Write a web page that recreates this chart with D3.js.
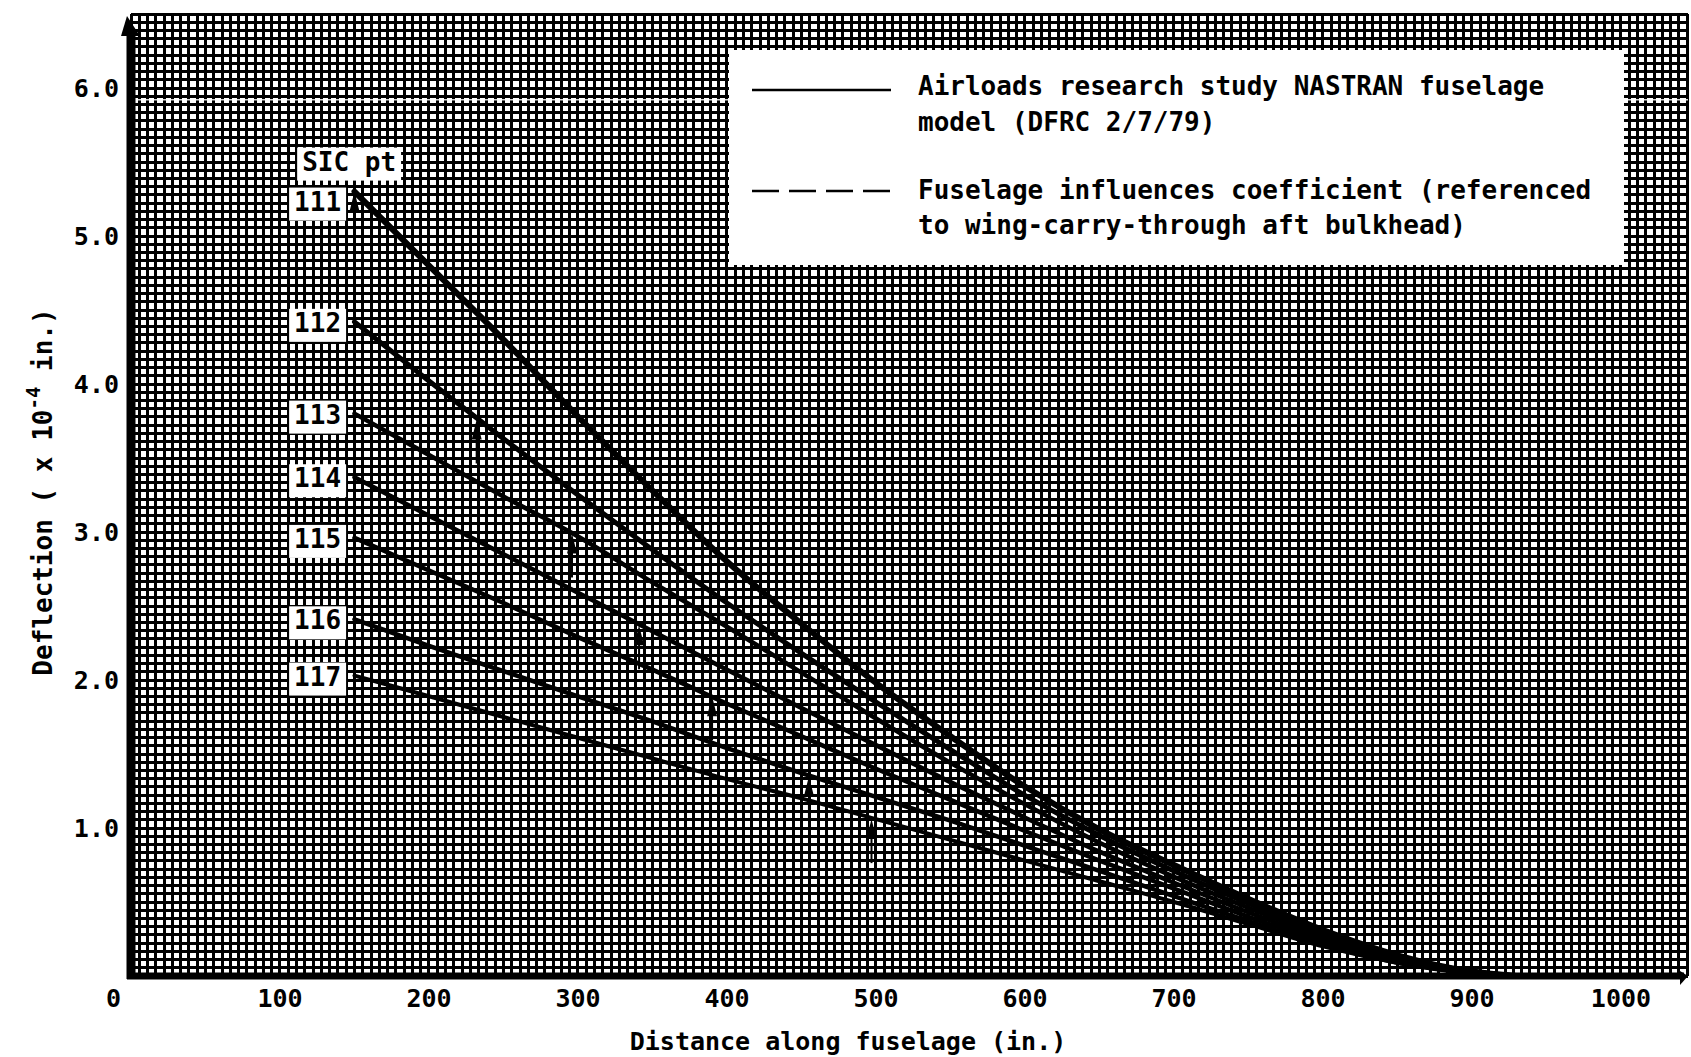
<!DOCTYPE html>
<html>
<head>
<meta charset="utf-8">
<script src="https://cdn.jsdelivr.net/npm/d3@7"></script>
<style>
  html, body { margin: 0; padding: 0; background: #fff; }
  svg { display: block; }
  text { font-family: "DejaVu Sans Mono", "Liberation Mono", monospace; font-weight: bold; fill: #000; }
</style>
</head>
<body>
<svg id="chart" width="1691" height="1057"></svg>
<script>
// ---- data -------------------------------------------------------------
const xTicks = [0, 100, 200, 300, 400, 500, 600, 700, 800, 900, 1000];
const yTicks = [1.0, 2.0, 3.0, 4.0, 5.0, 6.0];

const sicPoints = ["111", "112", "113", "114", "115", "116", "117"];

// distance along fuselage (in.) at which each deflection curve is read
const distance = [150, 200, 250, 300, 350, 400, 450, 500, 550, 600, 650, 700, 750, 800, 850, 900, 930];

// deflection (x 10^-4 in.) for each SIC point
const defl111 = [5.30, 4.80, 4.30, 3.78, 3.28, 2.80, 2.38, 1.98, 1.62, 1.28, 0.99, 0.75, 0.52, 0.31, 0.14, 0.03, 0.0];
const defl112 = [4.42, 4.02, 3.63, 3.25, 2.88, 2.52, 2.18, 1.85, 1.53, 1.22, 0.95, 0.71, 0.49, 0.29, 0.13, 0.03, 0.0];
const defl113 = [3.80, 3.52, 3.24, 2.97, 2.66, 2.36, 2.05, 1.74, 1.44, 1.16, 0.90, 0.67, 0.46, 0.27, 0.12, 0.03, 0.0];
const defl114 = [3.37, 3.11, 2.85, 2.59, 2.33, 2.07, 1.81, 1.56, 1.31, 1.07, 0.84, 0.63, 0.43, 0.25, 0.11, 0.02, 0.0];
const defl115 = [2.96, 2.74, 2.52, 2.29, 2.07, 1.84, 1.62, 1.40, 1.19, 0.98, 0.78, 0.59, 0.40, 0.23, 0.10, 0.02, 0.0];
const defl116 = [2.41, 2.23, 2.06, 1.89, 1.72, 1.54, 1.37, 1.21, 1.05, 0.88, 0.71, 0.54, 0.37, 0.21, 0.09, 0.02, 0.0];
const defl117 = [2.03, 1.89, 1.75, 1.61, 1.47, 1.33, 1.20, 1.06, 0.92, 0.78, 0.64, 0.50, 0.35, 0.20, 0.09, 0.02, 0.0];

// station of each SIC point and the deflection there (arrow markers)
const sicStation = [150, 232, 296, 341, 390, 455, 497];
const sicDeflection = [5.30, 3.76, 2.99, 2.37, 1.89, 1.35, 1.06];

const legendSolid = ["Airloads research study NASTRAN fuselage", "model (DFRC 2/7/79)"];
const legendDashed = ["Fuselage influences coefficient (referenced", "to wing-carry-through aft bulkhead)"];

// ---- scales -----------------------------------------------------------
const x = d3.scaleLinear().domain([0, 1045]).range([131, 1688]);
const y = d3.scaleLinear().domain([0, 6.5]).range([976, 14]);

const svg = d3.select("#chart");

// ---- graph paper ------------------------------------------------------
const squaresPerUnit = 18;
const gridX = d3.range(0, 1045 + 1e-6, 100 / squaresPerUnit);
const gridY = d3.range(0, 6.5 + 1e-6, 1 / squaresPerUnit);

const paper = svg.append("g").attr("shape-rendering", "crispEdges");
paper.append("rect")
  .attr("x", x(0)).attr("y", y(6.5))
  .attr("width", x(1045) - x(0)).attr("height", y(0) - y(6.5))
  .attr("fill", "#fff");
paper.selectAll("line.gv").data(gridX).join("line")
  .attr("class", "gv")
  .attr("x1", d => x(d)).attr("x2", d => x(d))
  .attr("y1", y(6.5)).attr("y2", y(0))
  .attr("stroke", "#000").attr("stroke-width", 3);
paper.selectAll("line.gh").data(gridY).join("line")
  .attr("class", "gh")
  .attr("x1", x(0)).attr("x2", x(1045))
  .attr("y1", d => y(d)).attr("y2", d => y(d))
  .attr("stroke", "#000").attr("stroke-width", 3);

// light crease running across the sheet near the top
svg.append("line")
  .attr("x1", x(0)).attr("x2", x(1045))
  .attr("y1", y(5.92)).attr("y2", y(5.92))
  .attr("stroke", "#fff").attr("stroke-width", 1.5).attr("opacity", 0.85);

// ---- legend -----------------------------------------------------------
const lg = svg.append("g");
lg.append("rect")
  .attr("x", 729).attr("y", 50).attr("width", 895).attr("height", 215)
  .attr("fill", "#fff");
lg.append("line")
  .attr("x1", 752).attr("x2", 891).attr("y1", 90).attr("y2", 90)
  .attr("stroke", "#000").attr("stroke-width", 2.5);
lg.append("line")
  .attr("x1", 752).attr("x2", 891).attr("y1", 191).attr("y2", 191)
  .attr("stroke", "#000").attr("stroke-width", 2.5)
  .attr("stroke-dasharray", "27,10");
lg.selectAll("text.ls").data(legendSolid).join("text")
  .attr("class", "ls")
  .attr("x", 918).attr("y", (d, i) => 95 + i * 36)
  .attr("font-size", 26).text(d => d);
lg.selectAll("text.ld").data(legendDashed).join("text")
  .attr("class", "ld")
  .attr("x", 918).attr("y", (d, i) => 199 + i * 35)
  .attr("font-size", 26).text(d => d);

// ---- curves -----------------------------------------------------------
const series = [defl111, defl112, defl113, defl114, defl115, defl116, defl117];
const line = d3.line()
  .x(d => x(d[0])).y(d => y(d[1]))
  .curve(d3.curveMonotoneX);

const curveWidth = [6, 5, 4.5, 4.5, 4.5, 4.5, 4];
svg.append("g").selectAll("path").data(series).join("path")
  .attr("d", s => line(distance.map((dv, i) => [dv, s[i]])))
  .attr("fill", "none")
  .attr("stroke", "#000")
  .attr("stroke-width", (s, i) => curveWidth[i])
  .attr("stroke-linejoin", "round")
  .attr("stroke-linecap", "round");

// ---- station arrows ---------------------------------------------------
const arrows = svg.append("g");
sicStation.forEach((st, i) => {
  const ax = x(st), ay = y(sicDeflection[i]);
  const len = i === 0 ? 68 : 44;
  arrows.append("line")
    .attr("x1", ax).attr("x2", ax)
    .attr("y1", ay + 10).attr("y2", ay + len)
    .attr("stroke", "#000").attr("stroke-width", 2);
  arrows.append("path")
    .attr("d", `M${ax},${ay} L${ax - 5},${ay + 20} L${ax + 5},${ay + 20} Z`)
    .attr("fill", "#000");
});

// ---- SIC point labels -------------------------------------------------
const labels = svg.append("g");
function boxedText(g, tx, ty, str, anchor) {
  const t = g.append("text")
    .attr("x", tx).attr("y", ty)
    .attr("text-anchor", anchor)
    .attr("font-size", 26)
    .text(str);
  const b = t.node().getBBox();
  g.insert("rect", "text")
    .attr("x", b.x - 5).attr("y", b.y + 1)
    .attr("width", b.width + 10).attr("height", b.height + 3)
    .attr("fill", "#fff");
}
const labelEdge = x(141);
// offsets keep the stacked header and 111 label clear of each other
const labelShift = [17, 0, 0, 0, 0, 0, 0];
boxedText(labels.append("g"), labelEdge + 55, y(5.30) - 21, "SIC pt", "end");
sicPoints.forEach((p, i) => {
  boxedText(labels.append("g"), labelEdge, y(series[i][0]) + 10 + labelShift[i] - (i === 0 ? 8 : 0), p, "end");
});

// ---- axes -------------------------------------------------------------
const axes = svg.append("g");
axes.append("line")
  .attr("x1", x(0)).attr("x2", x(0))
  .attr("y1", y(6.5) + 16).attr("y2", y(0) + 3)
  .attr("stroke", "#000").attr("stroke-width", 9);
axes.append("path")
  .attr("d", `M${x(0) - 10},${y(6.5) + 22} L${x(0) - 4},${y(6.5) + 2} L${x(0) + 9},${y(6.5) + 22} Z`)
  .attr("fill", "#000");
axes.append("line")
  .attr("x1", x(0) - 4).attr("x2", x(1045) - 4)
  .attr("y1", y(0)).attr("y2", y(0))
  .attr("stroke", "#000").attr("stroke-width", 7);
axes.append("path")
  .attr("d", `M${x(1045) - 8},${y(0) - 5} L${x(1045)},${y(0)} L${x(1045) - 8},${y(0) + 9} Z`)
  .attr("fill", "#000");

// tick labels
axes.selectAll("text.xt").data(xTicks).join("text")
  .attr("class", "xt")
  .attr("x", d => d === 0 ? x(0) - 10 : x(d))
  .attr("y", 1007)
  .attr("text-anchor", d => d === 0 ? "end" : "middle")
  .attr("font-size", 25)
  .text(d => d);
axes.selectAll("text.yt").data(yTicks).join("text")
  .attr("class", "yt")
  .attr("x", 119)
  .attr("y", d => y(d) + 9)
  .attr("text-anchor", "end")
  .attr("font-size", 25)
  .text(d => d.toFixed(1));

// axis titles
axes.append("text")
  .attr("x", 848).attr("y", 1050)
  .attr("text-anchor", "middle")
  .attr("font-size", 25)
  .text("Distance along fuselage (in.)");

const yt = axes.append("text")
  .attr("transform", "translate(52,492) rotate(-90)")
  .attr("text-anchor", "middle")
  .attr("font-size", 26);
yt.append("tspan").text("Deflection ( x 10");
yt.append("tspan").attr("dy", -12).attr("font-size", 19).text("-4");
yt.append("tspan").attr("dy", 12).text(" in.)");
</script>
</body>
</html>
